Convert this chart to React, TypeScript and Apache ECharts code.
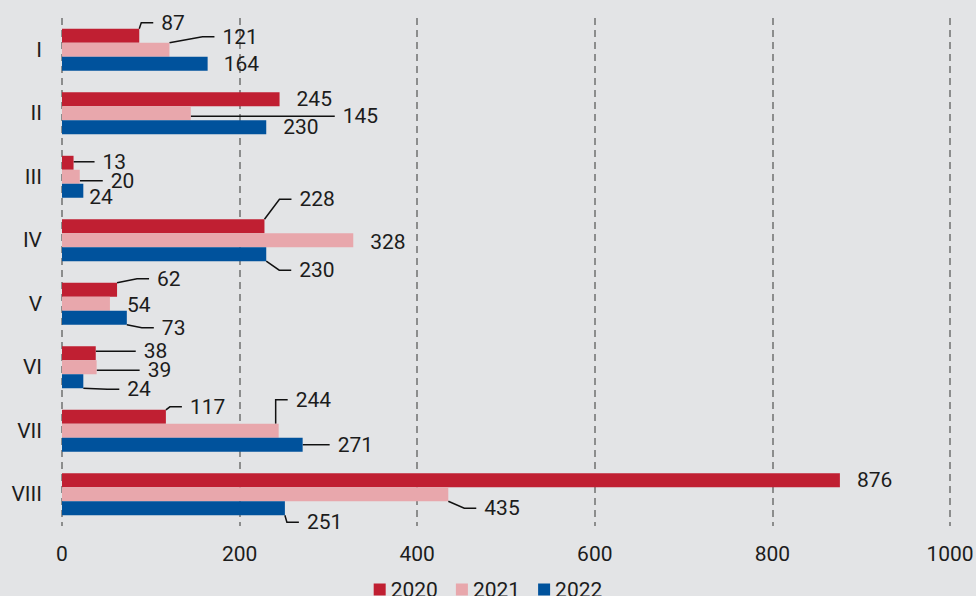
import React, { useEffect, useRef } from 'react';
import * as echarts from 'echarts';

const categories = ['I', 'II', 'III', 'IV', 'V', 'VI', 'VII', 'VIII'];
const years = ['2020', '2021', '2022'];
const values2020 = [87, 245, 13, 228, 62, 38, 117, 876];
const values2021 = [121, 145, 20, 328, 54, 39, 244, 435];
const values2022 = [164, 230, 24, 230, 73, 24, 271, 251];
const xMin = 0;
const xMax = 1000;
const xInterval = 200;

const colors = ['#c01f32', '#e8a7ac', '#00529c'];

// label placement (layout config, pixels)
const labelDx = [
  [14, 9, 21, 27, 32, 40, 16, 9],
  [45, 144, 23, 9, 9, 43, 9, 28],
  [8, 9, -2, 25, 27, 36, 27, 14],
];
const labelDy = [
  [-13, 0, -1, -27, -11, -2, -10, 0],
  [-13, 3, 4, 2, 1, 3, -31, 14],
  [0, 0, 6, 16, 10, 8, 0, 14],
];
// 0 = no leader line, 1 = leader to left side of label, 2 = leader to label bottom
const leaderMode = [
  [1, 0, 1, 1, 1, 1, 1, 0],
  [1, 1, 1, 0, 0, 1, 2, 1],
  [0, 0, 0, 1, 1, 1, 1, 1],
];

const seriesValues = [values2020, values2021, values2022];

export default function App() {
  const ref = useRef<HTMLDivElement>(null);
  useEffect(() => {
    document.body.style.margin = '0';
    const chart = echarts.init(ref.current!, null, { renderer: 'svg' });
    const textColor = '#1c1c1c';
    const font = 'Roboto';
    const option: any = {
      animation: false,
      backgroundColor: '#e3e4e6',
      textStyle: { fontFamily: font, color: textColor },
      grid: { left: 62, right: 26, top: 18, bottom: 70, outerBoundsMode: 'none' },
      legend: {
        data: years,
        left: 'center',
        top: 574,
        icon: 'rect',
        itemWidth: 12,
        itemHeight: 12,
        itemGap: 18,
        textStyle: { fontFamily: font, fontSize: 21, color: textColor },
      },
      xAxis: {
        type: 'value',
        min: xMin,
        max: xMax,
        interval: xInterval,
        axisLine: { show: false },
        axisTick: { show: false },
        axisLabel: {
          fontFamily: font,
          fontSize: 21,
          color: textColor,
          margin: 17,
          formatter: (v: number) => String(v),
        },
        splitLine: { show: true, lineStyle: { type: [7, 5], color: '#707070', width: 1.5 } },
      },
      yAxis: {
        type: 'category',
        inverse: true,
        data: categories,
        axisLine: { show: false },
        axisTick: { show: false },
        axisLabel: { fontFamily: font, fontSize: 21, color: textColor, margin: 20 },
        splitLine: { show: false },
      },
      series: years.map((y, s) => ({
        name: y,
        type: 'bar',
        barGap: '0%',
        barCategoryGap: '34%',
        itemStyle: { color: colors[s] },
        data: seriesValues[s].map((v, i) => ({
          value: v,
          labelLine: { show: leaderMode[s][i] > 0 },
        })),
        label: {
          show: true,
          position: 'right',
          distance: 0,
          padding: [0, 0, 0, 8],
          backgroundColor: 'transparent',
          fontFamily: font,
          fontSize: 21,
          color: textColor,
        },
        labelLine: {
          show: true,
          length2: 12,
          lineStyle: { color: '#111111', width: 1.5 },
        },
        labelLayout: (p: any) => {
          const si = p.seriesIndex;
          const i = p.dataIndex;
          const dx = labelDx[si][i];
          const dy = labelDy[si][i];
          const res: any = { dx, dy };
          const mode = leaderMode[si][i];
          if (!mode) return res;
          const lr = p.labelRect;
          const r = p.rect;
          const barEnd = r.x + r.width;
          const barCy = r.y + r.height / 2;
          const tx = lr.x + 8 + dx;
          const cy = lr.y + lr.height / 2 + dy;
          if (mode === 1) {
            const endX = tx - 8;
            const elbowX = Math.max(endX - 12, barEnd + 1);
            let sy = barCy;
            if (elbowX - barEnd < 6) sy = Math.min(Math.max(cy, r.y), r.y + r.height);
            res.labelLinePoints = [[barEnd, sy], [elbowX, cy], [endX, cy]];
          } else {
            const cx = tx + (lr.width - 8) / 2;
            res.labelLinePoints = [[barEnd, barCy], [cx, cy + 10]];
          }
          return res;
        },
      })),
    };
    chart.setOption(option);
    return () => chart.dispose();
  }, []);
  return (
    <div
      ref={ref}
      style={{ position: 'fixed', left: 0, top: 0, width: 976, height: 596 }}
    />
  );
}
